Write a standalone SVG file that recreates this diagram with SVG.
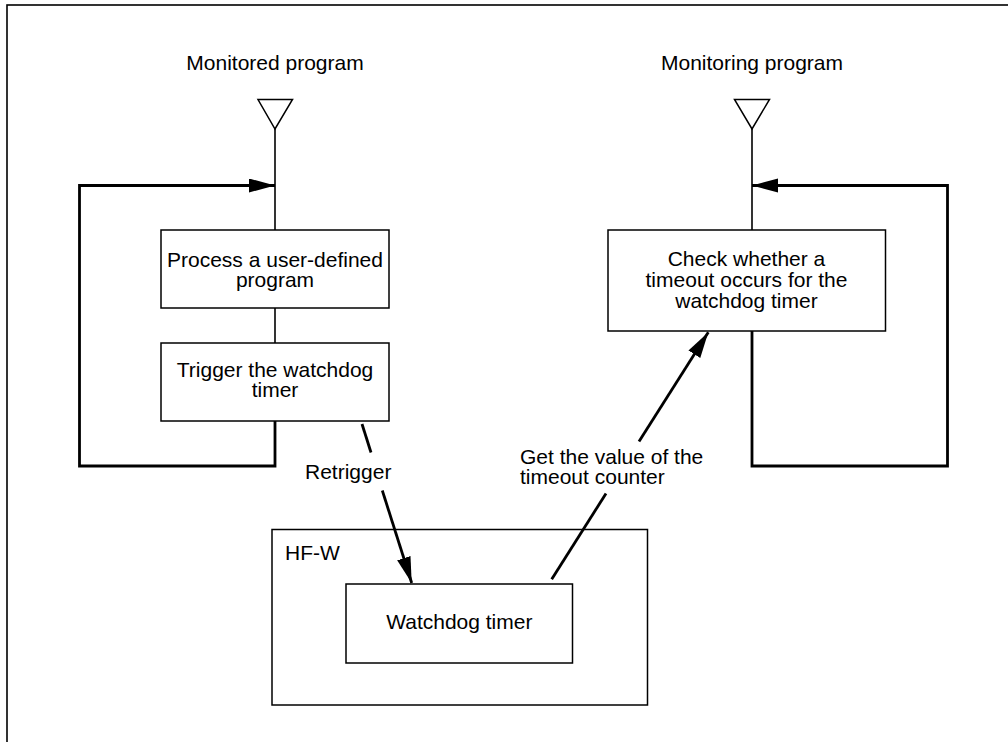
<svg xmlns="http://www.w3.org/2000/svg" width="1008" height="742" viewBox="0 0 1008 742">
<defs>
<style>
text{font-family:"Liberation Sans",Arial,sans-serif;font-size:21px;fill:#000}
.box{fill:#fff;stroke:#000;stroke-width:1.5}
.frame{fill:none;stroke:#000;stroke-width:1.5}
.thin{fill:none;stroke:#000;stroke-width:1.6}
.thick{fill:none;stroke:#000;stroke-width:2.8}
.c{text-anchor:middle}
</style>
<marker id="ah" markerUnits="userSpaceOnUse" markerWidth="28" markerHeight="16" refX="26" refY="7" orient="auto">
<path d="M0,0 L26,7 L0,14 z" fill="#000"/>
</marker>
</defs>
<rect x="0" y="0" width="1008" height="742" fill="#fff"/>
<rect x="7" y="5" width="1010" height="760" fill="none" stroke="#000" stroke-width="1.6"/>

<g id="connectors">
<line class="thin" x1="275" y1="129" x2="275" y2="230"/>
<line class="thin" x1="275" y1="308" x2="275" y2="343"/>
<path class="thick" d="M275,421 V466 H79.5 V185.5 H275" marker-end="url(#ah)"/>
<line class="thin" x1="752" y1="129" x2="752" y2="230"/>
<path class="thick" d="M752,331 V466 H947.5 V185.5 H752" marker-end="url(#ah)"/>
<line class="thick" x1="362" y1="424" x2="371" y2="452.5"/>
<line class="thick" x1="382.3" y1="490.5" x2="411.7" y2="583" marker-end="url(#ah)"/>
<line class="thick" x1="551.7" y1="579.3" x2="606" y2="493.5"/>
<line class="thick" x1="639" y1="441.5" x2="708.3" y2="332.3" marker-end="url(#ah)"/>
</g>

<g id="monitored-start">
<text class="c" x="275" y="70">Monitored program</text>
<polygon class="box" points="258,99.5 292.5,99.5 275,129"/>
</g>
<g id="monitoring-start">
<text class="c" x="752" y="70">Monitoring program</text>
<polygon class="box" points="734.5,99.5 769.5,99.5 752,129"/>
</g>

<g id="process">
<rect class="box" x="161" y="230" width="228" height="78"/>
<text class="c" x="275" y="266.5">Process a user-defined</text>
<text class="c" x="275" y="287">program</text>
</g>
<g id="trigger">
<rect class="box" x="161" y="343" width="228" height="78"/>
<text class="c" x="275" y="377">Trigger the watchdog</text>
<text class="c" x="275" y="397">timer</text>
</g>
<g id="check">
<rect class="box" x="608" y="230" width="277.5" height="101"/>
<text class="c" x="746.5" y="265.5">Check whether a</text>
<text class="c" x="746.5" y="287">timeout occurs for the</text>
<text class="c" x="746.5" y="308">watchdog timer</text>
</g>
<g id="hfw">
<rect class="frame" x="272" y="529.5" width="375.5" height="175.5"/>
<text x="285" y="560">HF-W</text>
</g>
<g id="watchdog">
<rect class="box" x="346" y="584" width="226.5" height="79"/>
<text class="c" x="459.3" y="629">Watchdog timer</text>
</g>

<g id="labels">
<text x="305" y="478.5">Retrigger</text>
<text x="520" y="463.5">Get the value of the</text>
<text x="520" y="483.5">timeout counter</text>
</g>
</svg>
